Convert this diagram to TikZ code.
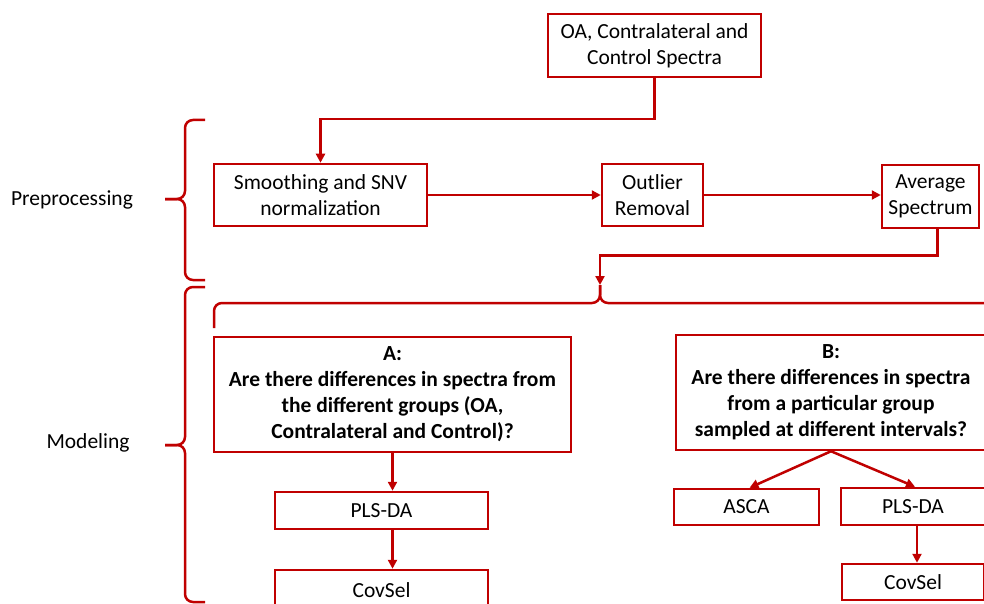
\documentclass[tikz,border=0pt]{standalone}
\usepackage{fontspec}
\setmainfont{Carlito}
\usetikzlibrary{arrows.meta}
\definecolor{boxred}{RGB}{192,0,0}

\begin{document}
\begin{tikzpicture}[x=1pt,y=-1pt,
  box/.style={draw=boxred,line width=2.5pt,fill=white,align=center,inner sep=0pt,font=\fontsize{21.5}{26}\selectfont},
  arr/.style={draw=boxred,line width=2.5pt,-{Triangle[length=9pt,width=9pt]}},
  brc/.style={draw=boxred,line width=2.5pt,rounded corners=8pt}]
\clip (0,0) rectangle (984,604);
\fill[white] (0,0) rectangle (984,604);
% preprocessing
\node[box,minimum width=213pt,minimum height=63pt] (spectra) at (654.5,45.5) {OA, Contralateral and\\Control Spectra};
\node[box,minimum width=213pt,minimum height=62pt] (smooth) at (320.5,195) {Smoothing and SNV\\normalization};
\node[box,minimum width=101pt,minimum height=62pt] (outlier) at (652.5,195) {Outlier\\Removal};
\node[box,minimum width=97pt,minimum height=63pt] (average) at (930.5,196.5) {Average\\Spectrum};
% modeling
\node[box,minimum width=357pt,minimum height=115pt] (qa) at (392.5,394.5) {\textbf{A:}\\\textbf{Are there differences in spectra from}\\\textbf{the different groups (OA,}\\\textbf{Contralateral and Control)?}};
\node[box,minimum width=310pt,minimum height=115pt] (qb) at (831,392.5) {\textbf{B:}\\\textbf{Are there differences in spectra}\\\textbf{from a particular group}\\\textbf{sampled at different intervals?}};
\node[box,minimum width=213pt,minimum height=37pt] (plsa) at (381.5,510.5) {PLS-DA};
\node[box,minimum width=213pt,minimum height=40pt] (covsela) at (381.5,590) {CovSel};
\node[box,minimum width=145pt,minimum height=36pt] (asca) at (746.5,507) {ASCA};
\node[box,minimum width=144pt,minimum height=37pt] (plsb) at (913,506.5) {PLS-DA};
\node[box,minimum width=142pt,minimum height=36pt] (covselb) at (913,582) {CovSel};
\node[font=\fontsize{21.5}{26}\selectfont] (prep) at (72,200) {Preprocessing};
\node[font=\fontsize{21.5}{26}\selectfont] (model) at (88,443) {Modeling};
\coordinate (bracetip) at (600,285);

% braces
\draw[brc] (205,120) -| (185,199) -- (165,199);
\draw[brc] (165,199) -- (185,199) |- (205,280);
\draw[brc] (205,287) -| (185,445) -- (165,445);
\draw[brc] (165,445) -- (185,445) |- (205,602);
\draw[brc] (214,328) |- (bracetip |- 0,303) -- (bracetip);
\draw[brc] (bracetip) -- (bracetip |- 0,303) -| (1010,330);

% arrows
\draw[arr] (spectra.south) -- ++(0,41) -| (smooth.north);
\draw[arr] (smooth.east) -- (outlier.west);
\draw[arr] (outlier.east) -- (outlier.east -| average.west);
\draw[arr] ([xshift=7pt]average.south) -- ++(0,26) -| (bracetip);
\draw[arr] (qa.south) -- (qa.south |- plsa.north);
\draw[arr] (qa.south |- plsa.south) -- (qa.south |- covsela.north);
\draw[arr] (qb.south) -- ([xshift=3pt]asca.north);
\draw[arr] (qb.south) -- ([xshift=2pt]plsb.north);
\draw[arr] ([xshift=4pt]plsb.south) -- ([xshift=4pt]covselb.north);
\end{tikzpicture}
\end{document}
